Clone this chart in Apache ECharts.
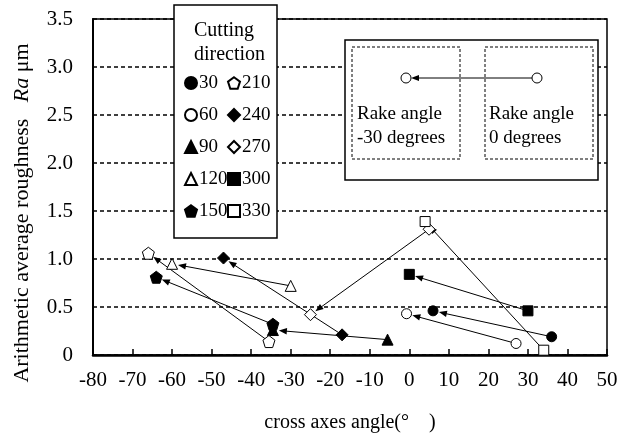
<!DOCTYPE html>
<html><head><meta charset="utf-8">
<script src="https://cdn.jsdelivr.net/npm/echarts@6/dist/echarts.min.js"></script>
<style>html,body{margin:0;padding:0;background:#fff}#c{width:632px;height:438px}</style>
</head><body><div id="c"></div>
<script>
// Cutting directions and their two measurements (rake angle 0 deg -> rake angle -30 deg)
const directions = ['30','60','90','120','150','210','240','270','300','330'];
const rake0X   = [36, 27, -5.5, -30, -34.5, -35.5, -17, 5, 30, 34];
const rake0Y   = [0.19, 0.12, 0.16, 0.72, 0.32, 0.14, 0.21, 1.31, 0.46, 0.05];
const rakeM30X = [6, -0.7, -34.5, -60, -64, -66, -47, -25, 0, 4];
const rakeM30Y = [0.46, 0.43, 0.26, 0.95, 0.81, 1.06, 1.01, 0.42, 0.84, 1.39];
const xMin = -80, xMax = 50, xStep = 10;
const yMin = 0, yMax = 3.5, yStep = 0.5;

const FONT = "'Liberation Serif','Times New Roman',serif";
const PENT = 'path://M0,-10L9.51,-3.09L5.88,8.09L-5.88,8.09L-9.51,-3.09Z';
const symbolOf = {
  '30':['circle',10,true], '60':['circle',10,false],
  '90':['triangle',11,true], '120':['triangle',11,false],
  '150':[PENT,12,true], '210':[PENT,12,false],
  '240':['diamond',12,true], '270':['diamond',12,false],
  '300':['rect',10,true], '330':['rect',10,false]
};

const chart = echarts.init(document.getElementById('c'), null, {renderer:'canvas'});

const scatterSeries = directions.map((d,i)=>{
  const [sym,size,filled] = symbolOf[d];
  return {
    name:d, type:'scatter', symbol:sym, symbolSize:size, z:5,
    itemStyle:{color: filled ? '#000' : '#fff', borderColor:'#000', borderWidth:1, opacity:1},
    data:[[rake0X[i], rake0Y[i]], [rakeM30X[i], rakeM30Y[i]]]
  };
});

const arrowSeries = {
  type:'custom', coordinateSystem:'cartesian2d', silent:true, z:3,
  data: directions.map((d,i)=>[rake0X[i], rake0Y[i], rakeM30X[i], rakeM30Y[i]]),
  encode:{x:[0,2], y:[1,3]},
  renderItem(params, api){
    const p0 = api.coord([api.value(0), api.value(1)]);
    const p1 = api.coord([api.value(2), api.value(3)]);
    const dx = p1[0]-p0[0], dy = p1[1]-p0[1];
    const L = Math.hypot(dx,dy), ux = dx/L, uy = dy/L;
    const gap = 6, ah = 8, aw = 3.2;
    const tip = [p1[0]-ux*gap, p1[1]-uy*gap];
    const base = [tip[0]-ux*ah, tip[1]-uy*ah];
    const nx = -uy, ny = ux;
    return {type:'group', children:[
      {type:'line', shape:{x1:p0[0], y1:p0[1], x2:base[0]+ux*2, y2:base[1]+uy*2}, style:{stroke:'#000', lineWidth:1}},
      {type:'polygon', shape:{points:[tip, [base[0]+nx*aw, base[1]+ny*aw], [base[0]-nx*aw, base[1]-ny*aw]]}, style:{fill:'#000'}}
    ]};
  }
};

const legendCommon = {
  orient:'vertical', itemWidth:12, itemHeight:12, itemGap:12, z:150, padding:0,
  textStyle:{fontFamily:FONT, fontSize:19, color:'#000', lineHeight:20, padding:[0,0,0,-3]},
  selectedMode:false
};

chart.setOption({
  animation:false,
  backgroundColor:'#fff',
  grid:{left:93, right:25, top:19, bottom:83, show:true, borderColor:'#000', borderWidth:1.5, containLabel:false},
  xAxis:{
    type:'value', min:xMin, max:xMax, interval:xStep,
    name:'cross axes angle(°\u3000)', nameLocation:'middle', nameGap:58,
    nameTextStyle:{fontFamily:FONT, fontSize:20, color:'#000'},
    axisLine:{show:true, onZero:false, lineStyle:{color:'#000', width:2.5}},
    axisTick:{show:true, inside:true, length:6, lineStyle:{color:'#000', width:1.5}},
    axisLabel:{fontFamily:FONT, fontSize:21, color:'#000', margin:15},
    splitLine:{show:false}
  },
  yAxis:{
    type:'value', min:yMin, max:yMax, interval:yStep,
    axisLine:{show:true, onZero:false, lineStyle:{color:'#000', width:2}},
    axisTick:{show:false},
    axisLabel:{fontFamily:FONT, fontSize:21, color:'#000', margin:20,
      formatter:v=> v===0 ? '0' : v.toFixed(1)},
    splitLine:{show:true, lineStyle:{color:'#000', width:1.5, type:[4,3]}}
  },
  legend:[
    Object.assign({data:directions.slice(0,5), left:184, top:73}, legendCommon),
    Object.assign({data:directions.slice(5), left:227, top:73}, legendCommon)
  ],
  graphic:[
    {type:'rect', z:100, shape:{x:174, y:5, width:103, height:233}, style:{fill:'#fff', stroke:'#000', lineWidth:1.5}},
    {type:'text', z:101, left:194, top:19, style:{text:'Cutting\ndirection', font:'20px '+FONT, fill:'#000', lineHeight:24}},
    {type:'group', z:100, children:[
      {type:'rect', z:100, shape:{x:345, y:40, width:253, height:140}, style:{fill:'#fff', stroke:'#000', lineWidth:1.5}},
      {type:'rect', z:101, shape:{x:352, y:47, width:108, height:112}, style:{fill:'none', stroke:'#000', lineWidth:1, lineDash:[3,2]}},
      {type:'rect', z:101, shape:{x:485, y:47, width:108, height:112}, style:{fill:'none', stroke:'#000', lineWidth:1, lineDash:[3,2]}},
      {type:'line', z:101, shape:{x1:532, y1:78, x2:417, y2:78}, style:{stroke:'#000', lineWidth:1}},
      {type:'polygon', z:102, shape:{points:[[411,78],[419,75],[419,81]]}, style:{fill:'#000'}},
      {type:'circle', z:102, shape:{cx:406, cy:78, r:5}, style:{fill:'#fff', stroke:'#000', lineWidth:1}},
      {type:'circle', z:102, shape:{cx:537, cy:78, r:5}, style:{fill:'#fff', stroke:'#000', lineWidth:1}},
      {type:'text', z:102, x:357, y:102, style:{text:'Rake angle\n-30 degrees', font:'19px '+FONT, fill:'#000', lineHeight:24}},
      {type:'text', z:102, x:489, y:102, style:{text:'Rake angle\n0 degrees', font:'19px '+FONT, fill:'#000', lineHeight:24}}
    ]},
    {type:'text', z:101, x:22, y:213, rotation:Math.PI/2,
      style:{text:'{n|Arithmetic average roughness   }{i|Ra}{n| μm}', align:'center', verticalAlign:'middle',
        rich:{n:{font:'22px '+FONT, fill:'#000'}, i:{font:'italic 22px '+FONT, fill:'#000'}}}}
  ],
  series:[arrowSeries].concat(scatterSeries)
});
</script></body></html>
